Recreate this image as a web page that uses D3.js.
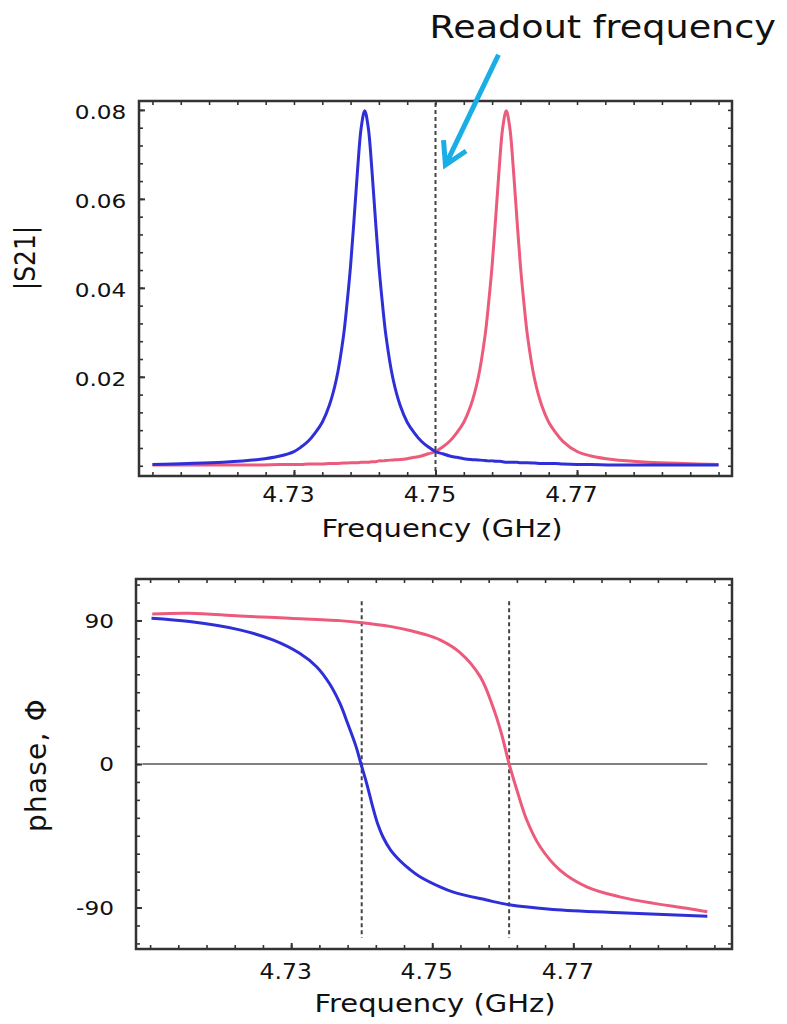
<!DOCTYPE html>
<html><head><meta charset="utf-8">
<script src="https://cdn.jsdelivr.net/npm/d3@7"></script>
<style>
body{margin:0;background:#fff}
svg{display:block}
text{font-family:"DejaVu Sans",Verdana,sans-serif;fill:#111}
</style>
</head><body>
<svg id="c" width="787" height="1024"></svg>
<script>
// ---------- data ----------
const freqMag = [4.710,4.715,4.720,4.725,4.728,4.730,4.731,4.732,4.733,4.734,4.735,4.736,4.737,4.7375,4.738,4.7385,4.739,4.7395,4.740,4.7405,4.741,4.7415,4.742,4.7425,4.743,4.744,4.745,4.746,4.747,4.748,4.749,4.750,4.751,4.752,4.753,4.754,4.755,4.756,4.757,4.7575,4.758,4.7585,4.759,4.7595,4.760,4.7605,4.761,4.7615,4.762,4.7625,4.763,4.764,4.765,4.766,4.767,4.768,4.770,4.772,4.775,4.780,4.785,4.790];
const s21Blue = [0.0003,0.0005,0.0008,0.0014,0.0022,0.0032,0.0042,0.0055,0.0074,0.0098,0.0136,0.0195,0.0292,0.0365,0.0450,0.0556,0.0668,0.0760,0.0798,0.0760,0.0668,0.0556,0.0450,0.0365,0.0292,0.0195,0.0136,0.0098,0.0074,0.0055,0.0042,0.0032,0.0027,0.0022,0.0019,0.0016,0.0014,0.0013,0.0012,0.0011,0.0011,0.0010,0.0010,0.0009,0.0008,0.0008,0.0008,0.0008,0.0007,0.0007,0.0007,0.0006,0.0005,0.0005,0.0005,0.0004,0.0003,0.0003,0.0002,0.0002,0.0002,0.0002];
const s21Red = [0.0002,0.0002,0.0002,0.0002,0.0003,0.0003,0.0003,0.0004,0.0004,0.0004,0.0005,0.0005,0.0006,0.0006,0.0007,0.0007,0.0007,0.0008,0.0008,0.0008,0.0009,0.0009,0.0011,0.0011,0.0012,0.0013,0.0014,0.0016,0.0019,0.0022,0.0027,0.0032,0.0042,0.0055,0.0074,0.0098,0.0136,0.0195,0.0292,0.0365,0.0450,0.0556,0.0668,0.0760,0.0798,0.0760,0.0668,0.0556,0.0450,0.0365,0.0292,0.0195,0.0136,0.0098,0.0074,0.0055,0.0032,0.0022,0.0014,0.0008,0.0005,0.0003];

const freqPhaseBlue = [4.7102,4.7156,4.7227,4.7274,4.7312,4.7336,4.7354,4.7369,4.7380,4.7392,4.7399,4.7407,4.7416,4.7423,4.7430,4.7441,4.7454,4.7468,4.7482,4.7511,4.7530,4.7577,4.7609,4.7671,4.7766,4.7890];
const phaseBlue = [91.4,89.3,84.1,77.8,69.4,61.0,50.6,38.1,25.5,10.9,0,-12.1,-27.5,-38.0,-45.6,-54.0,-60.5,-66.0,-70.5,-77.0,-80.3,-85.3,-88.3,-91.2,-93.3,-95.4];
const freqPhaseRed = [4.7103,4.7156,4.7227,4.7298,4.7369,4.7401,4.7440,4.7470,4.7490,4.7511,4.7539,4.7568,4.7586,4.7598,4.7609,4.7620,4.7634,4.7653,4.7681,4.7719,4.7766,4.7814,4.7861,4.7890];
const phaseRed = [94.1,94.5,92.8,91.4,89.9,88.6,86.3,83.6,81.2,77.8,70.0,54.8,35.9,19.3,0,-16.3,-35.1,-51.9,-66.5,-77.0,-83.3,-87.4,-90.5,-92.7];

const xTickLabels = [4.73, 4.75, 4.77];
const magTickLabels = [0.02, 0.04, 0.06, 0.08];
const phaseTickLabels = [90, 0, -90];
const readoutFreq = 4.75;
const resonanceFreqs = [4.7400, 4.7609];
const zeroLineFreqs = [4.7089, 4.7890];
const arrowTail = [4.7589, 0.0924];
const arrowTip = [4.7514, 0.0676];

// ---------- layout ----------
const svg = d3.select("#c");
const BLUE = "#2f2fd8", RED = "#ec5a7c", FRAME = "#333", CYAN = "#1aaee6";
const SX = 1.16; // horizontal stretch of the original typography
const FONT = '"DejaVu Sans",Verdana,sans-serif';

const xTop = d3.scaleLinear().domain([4.7081, 4.7919]).range([139, 732]);
const yMag = d3.scaleLinear().domain([-0.0023, 0.0820]).range([476, 101]);
const xBot = d3.scaleLinear().domain([4.708, 4.7925]).range([136, 732]);
const yPh = d3.scaleLinear().domain([-116, 116]).range([949, 579]);

const xMinor = d3.range(0, 21).map(i => 4.71 + i * 0.004);
const magMinor = d3.range(0, 21).map(i => i * 0.004);
const phMinor = d3.range(-10, 11).map(i => i * 11.25);

function frame(x, y, xMin, yMin, xLab, yLab, opts) {
  const [x0, x1] = x.range(), [y1, y0] = y.range();
  const g = svg.append("g");
  const mk = (axis, tr) => g.append("g").attr("transform", tr).call(axis)
      .call(s => s.select(".domain").remove())
      .call(s => s.selectAll("line").attr("stroke", FRAME).attr("stroke-width", 1.6));
  mk(d3.axisBottom(x).tickValues(xMin).tickSize(-4).tickFormat(""), `translate(0,${y1})`);
  mk(d3.axisTop(x).tickValues(xMin).tickSize(-4).tickFormat(""), `translate(0,${y0})`);
  mk(d3.axisLeft(y).tickValues(yMin).tickSize(-4).tickFormat(""), `translate(${x0},0)`);
  mk(d3.axisRight(y).tickValues(yMin).tickSize(-4).tickFormat(""), `translate(${x1},0)`);
  const xa = g.append("g").attr("transform", `translate(0,${y1})`)
    .call(d3.axisBottom(x).tickValues(xLab).tickSize(-6).tickPadding(opts.xPad).tickFormat(d3.format(".2f")));
  xa.select(".domain").remove();
  xa.selectAll("line").attr("stroke", FRAME).attr("stroke-width", 2);
  xa.selectAll("text").attr("font-size", 21).attr("fill", "#111").attr("font-family", FONT)
    .attr("transform", `translate(-6,0) scale(1.12,1)`);
  const ya = g.append("g").attr("transform", `translate(${x0},0)`)
    .call(d3.axisLeft(y).tickValues(yLab).tickSize(-6).tickPadding(opts.yPad).tickFormat(opts.yFmt));
  ya.select(".domain").remove();
  ya.selectAll("line").attr("stroke", FRAME).attr("stroke-width", 2);
  ya.selectAll("text").attr("font-size", 20).attr("fill", "#111").attr("dy", opts.yDy)
    .attr("font-family", FONT).attr("transform", `scale(${SX},1)`);
  g.append("rect").attr("x", x0).attr("y", y0).attr("width", x1 - x0).attr("height", y1 - y0)
    .attr("fill", "none").attr("stroke", FRAME).attr("stroke-width", 2.5);
  return g;
}

// ---------- top panel: |S21| ----------
const gTop = svg.append("g");
gTop.append("line")
  .attr("x1", xTop(readoutFreq)).attr("x2", xTop(readoutFreq))
  .attr("y1", yMag.range()[1] + 2).attr("y2", yMag.range()[0] - 2)
  .attr("stroke", "#444").attr("stroke-width", 2).attr("stroke-dasharray", "4,3");

const lineTop = d3.line().x(d => xTop(d[0])).y(d => yMag(d[1])).curve(d3.curveCatmullRom.alpha(0.5));
gTop.append("path").datum(d3.zip(freqMag, s21Red)).attr("d", lineTop)
  .attr("fill", "none").attr("stroke", RED).attr("stroke-width", 3);
gTop.append("path").datum(d3.zip(freqMag, s21Blue)).attr("d", lineTop)
  .attr("fill", "none").attr("stroke", BLUE).attr("stroke-width", 3);

frame(xTop, yMag, xMinor, magMinor, xTickLabels, magTickLabels,
  {xPad: 11, yPad: 11, yDy: "0.45em", yFmt: d3.format(".2f")});

// ---------- bottom panel: phase ----------
const gBot = svg.append("g");
gBot.append("line")
  .attr("x1", xBot(zeroLineFreqs[0])).attr("x2", xBot(zeroLineFreqs[1]))
  .attr("y1", yPh(0)).attr("y2", yPh(0))
  .attr("stroke", "#808080").attr("stroke-width", 2);
gBot.selectAll("line.res").data(resonanceFreqs).enter().append("line")
  .attr("class", "res")
  .attr("x1", d => xBot(d)).attr("x2", d => xBot(d))
  .attr("y1", yPh(102)).attr("y2", yPh(-109))
  .attr("stroke", "#444").attr("stroke-width", 2).attr("stroke-dasharray", "4,3");

const lineBot = d3.line().x(d => xBot(d[0])).y(d => yPh(d[1])).curve(d3.curveCatmullRom.alpha(0.5));
gBot.append("path").datum(d3.zip(freqPhaseRed, phaseRed)).attr("d", lineBot)
  .attr("fill", "none").attr("stroke", RED).attr("stroke-width", 3);
gBot.append("path").datum(d3.zip(freqPhaseBlue, phaseBlue)).attr("d", lineBot)
  .attr("fill", "none").attr("stroke", BLUE).attr("stroke-width", 3);

frame(xBot, yPh, xMinor, phMinor, xTickLabels, phaseTickLabels,
  {xPad: 15, yPad: 19, yDy: "0.34em", yFmt: d => String(d)});

// ---------- titles ----------
function stretchedText(x, y, txt, size, anchor, rot, sx) {
  return svg.append("text")
    .attr("transform", `translate(${x},${y}) scale(${sx || SX},1)` + (rot ? ` rotate(${rot})` : ""))
    .attr("font-size", size).attr("text-anchor", anchor).text(txt);
}
stretchedText(442, 537, "Frequency (GHz)", 25, "middle");
stretchedText(435, 1012, "Frequency (GHz)", 25, "middle");
stretchedText(35, 258, "|S21|", 25, "middle", -90);
stretchedText(46, 765, "phase, \u03A6", 28, "middle", -90, 1.0).attr("letter-spacing", 1.2);
stretchedText(776, 38, "Readout frequency", 31.5, "end");

// ---------- annotation arrow ----------
const tx = xTop(arrowTip[0]), ty = yMag(arrowTip[1]);
const sx = xTop(arrowTail[0]), sy = yMag(arrowTail[1]);
const ang = Math.atan2(sy - ty, sx - tx), hl = 25, ha = Math.PI / 6;
const h1 = [tx + hl * Math.cos(ang - ha), ty + hl * Math.sin(ang - ha)];
const h2 = [tx + hl * Math.cos(ang + ha), ty + hl * Math.sin(ang + ha)];
svg.append("path")
  .attr("d", `M${sx},${sy}L${tx},${ty}M${h1[0]},${h1[1]}L${tx},${ty}L${h2[0]},${h2[1]}`)
  .attr("fill", "none").attr("stroke", CYAN).attr("stroke-width", 5)
  .attr("stroke-linecap", "butt").attr("stroke-linejoin", "miter");
</script>
</body></html>
